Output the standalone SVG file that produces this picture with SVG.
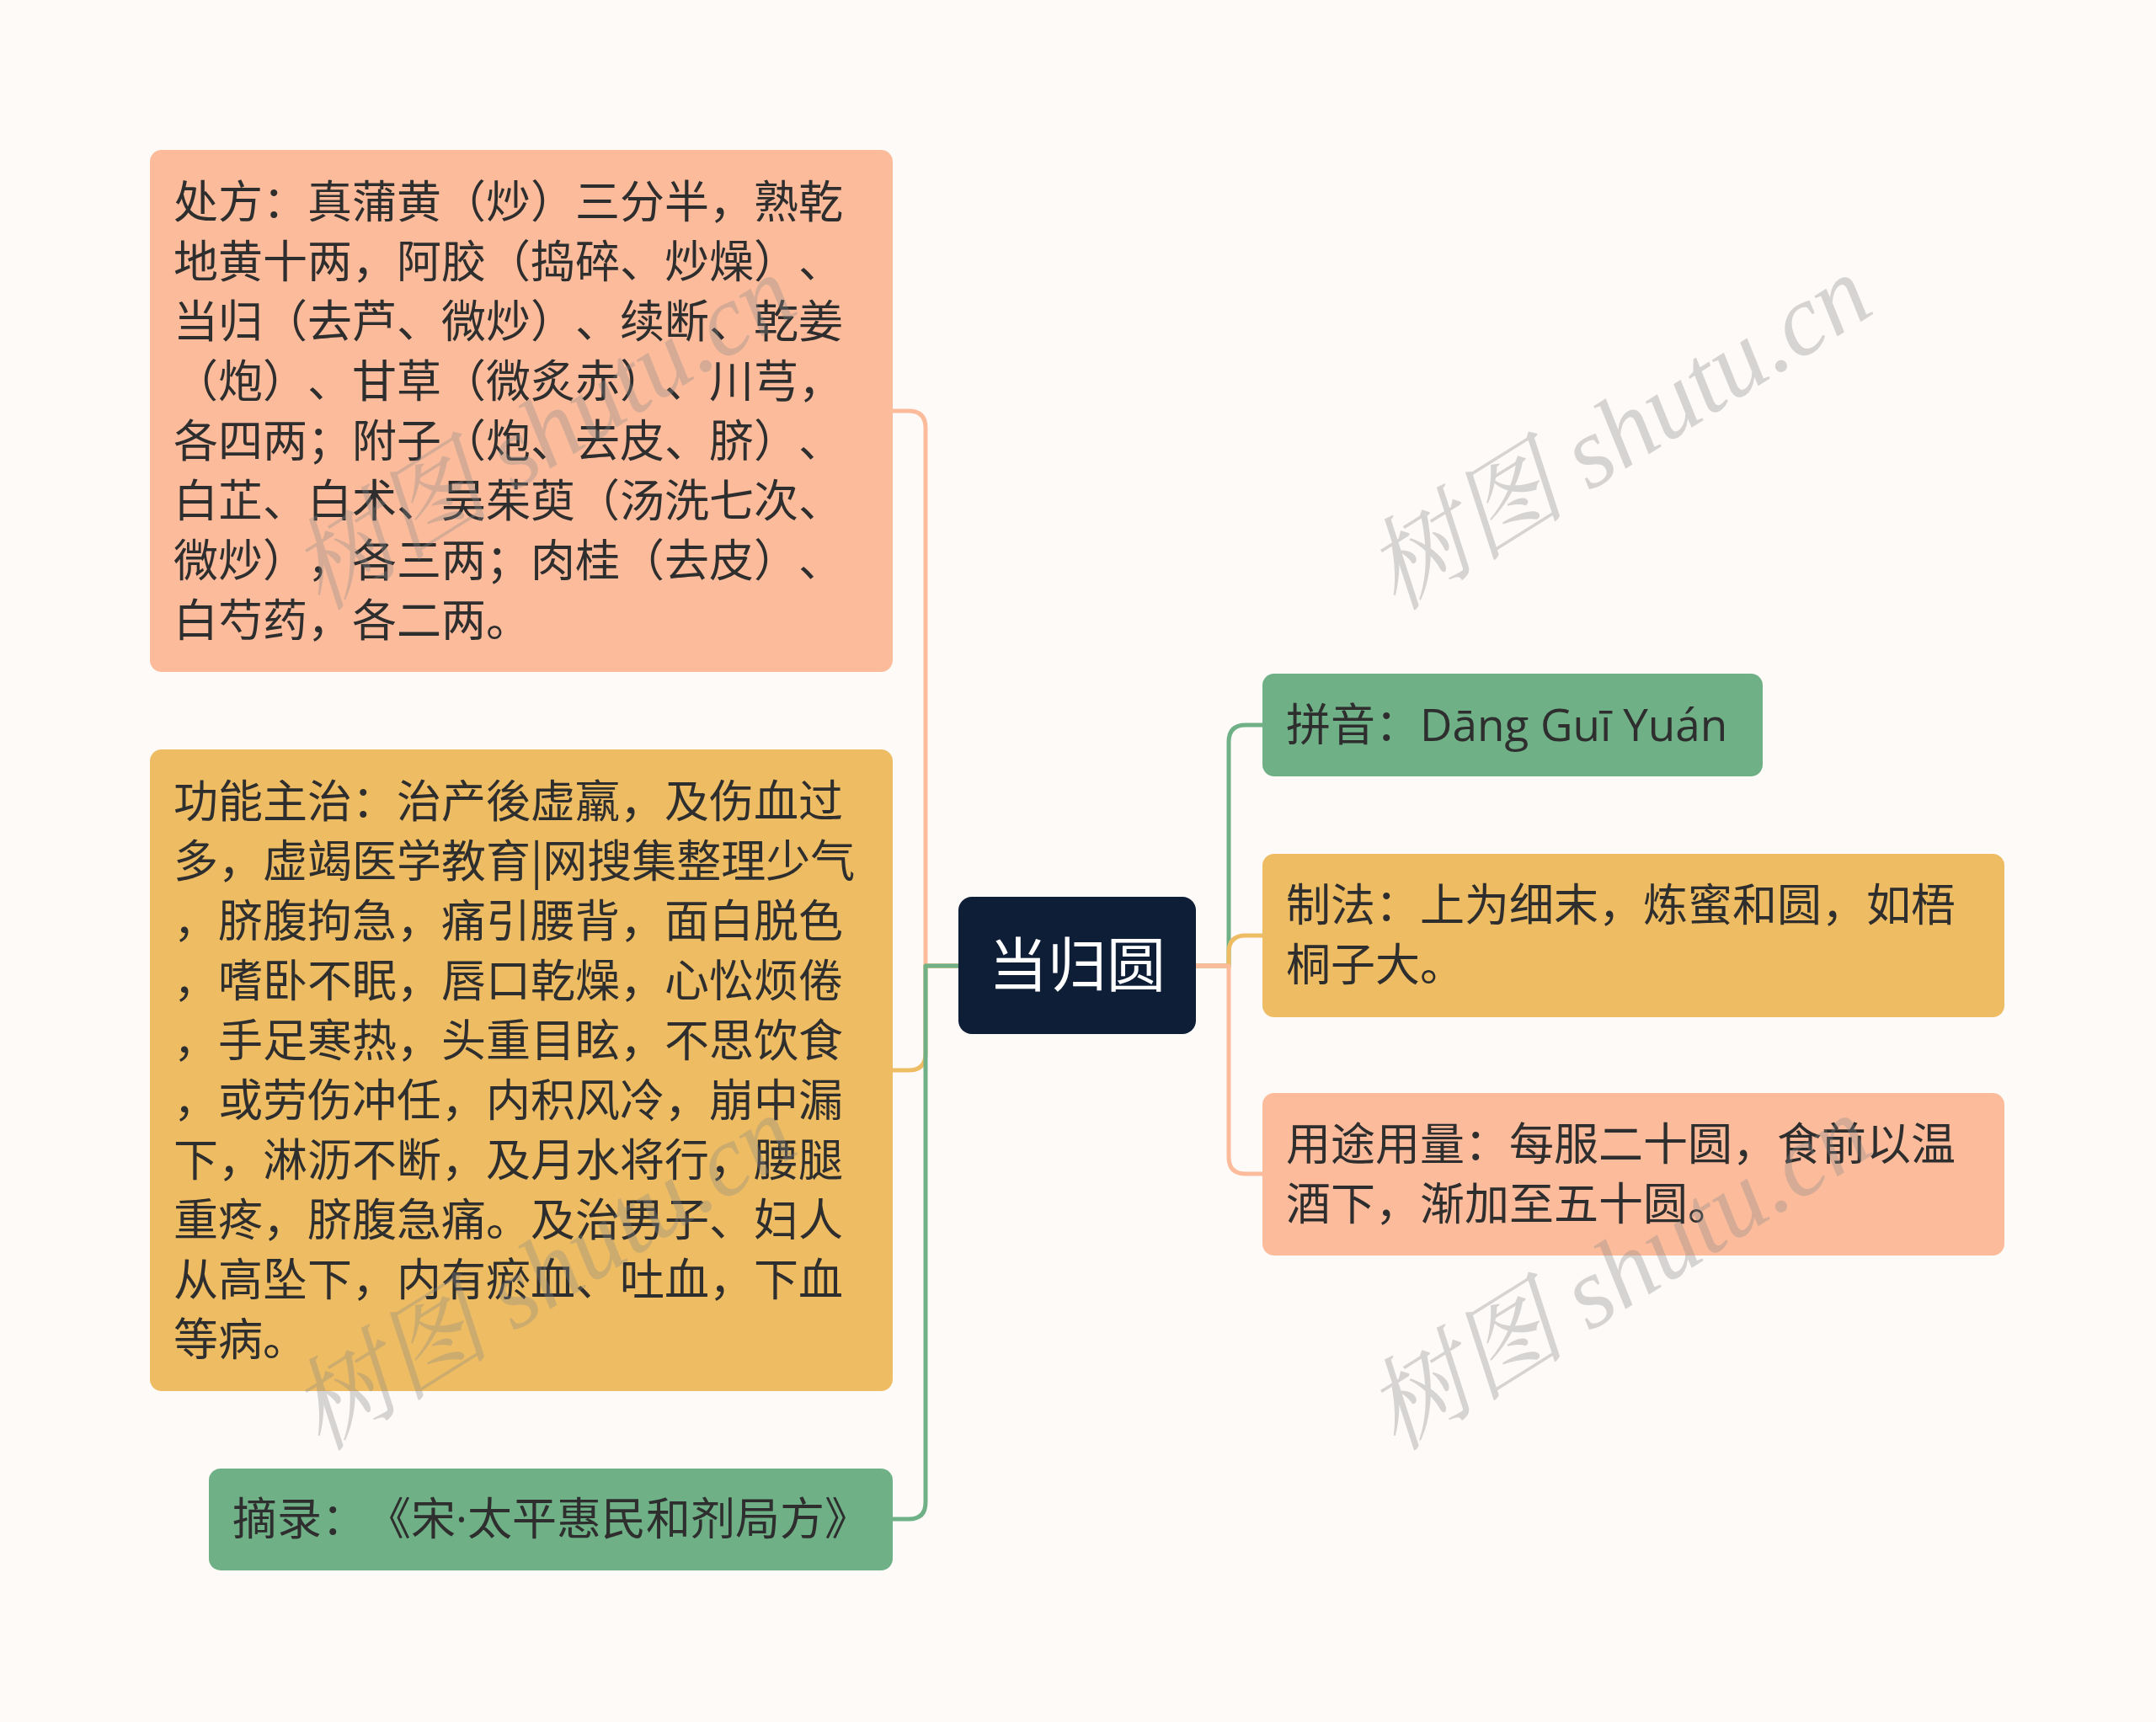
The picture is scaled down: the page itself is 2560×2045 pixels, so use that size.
<svg xmlns="http://www.w3.org/2000/svg" width="2560" height="2045" viewBox="0 0 2560 2045">
<style>
.t{font-family:"Noto Sans CJK SC","Noto Sans",sans-serif;font-size:53px;fill:#2e2e2e;text-spacing-trim:space-all;font-feature-settings:"chws" 0,"halt" 0}
.lat{font-family:"Open Sans","Noto Sans",sans-serif}
.c{font-family:"Noto Sans CJK SC","Noto Sans",sans-serif;font-size:70px;fill:#ffffff}
.wm{font-family:"Liberation Serif","Noto Serif CJK SC","Noto Sans CJK SC",serif;font-style:italic;font-size:120px;fill:#8a8a8a;opacity:0.33}
.ln{fill:none;stroke-width:5;stroke-linecap:round;stroke-linejoin:round}
.salmon{fill:#fcbc9c}
.orange{fill:#eebc62}
.green{fill:#6fb087}
</style>
<rect width="2560" height="2045" fill="#fdfaf8"/>
<g id="connectors">
<path class="ln" stroke="#fcbc9c" d="M1138 1147 H1099 V508 Q1099 488 1079 488 H1060"/>
<path class="ln" stroke="#eebc62" d="M1138 1147 H1099 V1251 Q1099 1271 1079 1271 H1060"/>
<path class="ln" stroke="#6fb087" d="M1138 1147 H1099 V1784 Q1099 1804 1079 1804 H1060"/>
<path class="ln" stroke="#6fb087" d="M1420 1147 H1459 V881 Q1459 861 1479 861 H1499"/>
<path class="ln" stroke="#eebc62" d="M1420 1147 H1459 V1131 Q1459 1111 1479 1111 H1499"/>
<path class="ln" stroke="#fcbc9c" d="M1420 1147 H1459 V1374 Q1459 1394 1479 1394 H1499"/>
</g>
<g id="node-center">
<rect x="1138" y="1065" width="282" height="163" rx="16" fill="#0e1e37"/>
<text class="c" x="1279" y="1172" text-anchor="middle">当归圆</text>
</g>
<g id="node-chufang">
<rect class="salmon" x="178" y="178" width="882" height="620" rx="14"/>
<text class="t" x="206" y="259">处方：真蒲黄（炒）三分半，熟乾</text>
<text class="t" x="206" y="330">地黄十两，阿胶（捣碎、炒燥）、</text>
<text class="t" x="206" y="401">当归（去芦、微炒）、续断、乾姜</text>
<text class="t" x="206" y="472">（炮）、甘草（微炙赤）、川芎，</text>
<text class="t" x="206" y="543">各四两；附子（炮、去皮、脐）、</text>
<text class="t" x="206" y="614">白芷、白术、吴茱萸（汤洗七次、</text>
<text class="t" x="206" y="685">微炒），各三两；肉桂（去皮）、</text>
<text class="t" x="206" y="756">白芍药，各二两。</text>
</g>
<g id="node-gongneng">
<rect class="orange" x="178" y="890" width="882" height="762" rx="14"/>
<text class="t" x="206" y="971">功能主治：治产後虚羸，及伤血过</text>
<text class="t" x="206" y="1042">多，虚竭医学教育|网搜集整理少气</text>
<text class="t" x="206" y="1113">，脐腹拘急，痛引腰背，面白脱色</text>
<text class="t" x="206" y="1184">，嗜卧不眠，唇口乾燥，心忪烦倦</text>
<text class="t" x="206" y="1255">，手足寒热，头重目眩，不思饮食</text>
<text class="t" x="206" y="1326">，或劳伤冲任，内积风冷，崩中漏</text>
<text class="t" x="206" y="1397">下，淋沥不断，及月水将行，腰腿</text>
<text class="t" x="206" y="1468">重疼，脐腹急痛。及治男子、妇人</text>
<text class="t" x="206" y="1539">从高坠下，内有瘀血、吐血，下血</text>
<text class="t" x="206" y="1610">等病。</text>
</g>
<g id="node-zhailu">
<rect class="green" x="248" y="1744" width="812" height="121" rx="14"/>
<text class="t" x="276" y="1823">摘录：《宋<tspan class="lat">·</tspan>太平惠民和剂局方》</text>
</g>
<g id="node-pinyin">
<rect class="green" x="1499" y="800" width="594" height="122" rx="14"/>
<text class="t" x="1527" y="880">拼音：<tspan class="lat">Dāng Guī Yuán</tspan></text>
</g>
<g id="node-zhifa">
<rect class="orange" x="1499" y="1014" width="881" height="194" rx="14"/>
<text class="t" x="1527" y="1094">制法：上为细末，炼蜜和圆，如梧</text>
<text class="t" x="1527" y="1165">桐子大。</text>
</g>
<g id="node-yongtu">
<rect class="salmon" x="1499" y="1298" width="881" height="193" rx="14"/>
<text class="t" x="1527" y="1378">用途用量：每服二十圆，食前以温</text>
<text class="t" x="1527" y="1449">酒下，渐加至五十圆。</text>
</g>
<g id="watermarks">
<text class="wm" transform="translate(1922 514) rotate(-32)" text-anchor="middle" dominant-baseline="central">树图 shutu.cn</text>
<text class="wm" transform="translate(1922 1512) rotate(-32)" text-anchor="middle" dominant-baseline="central">树图 shutu.cn</text>
<text class="wm" transform="translate(645 514) rotate(-32)" text-anchor="middle" dominant-baseline="central">树图 shutu.cn</text>
<text class="wm" transform="translate(645 1512) rotate(-32)" text-anchor="middle" dominant-baseline="central">树图 shutu.cn</text>
</g>
</svg>
